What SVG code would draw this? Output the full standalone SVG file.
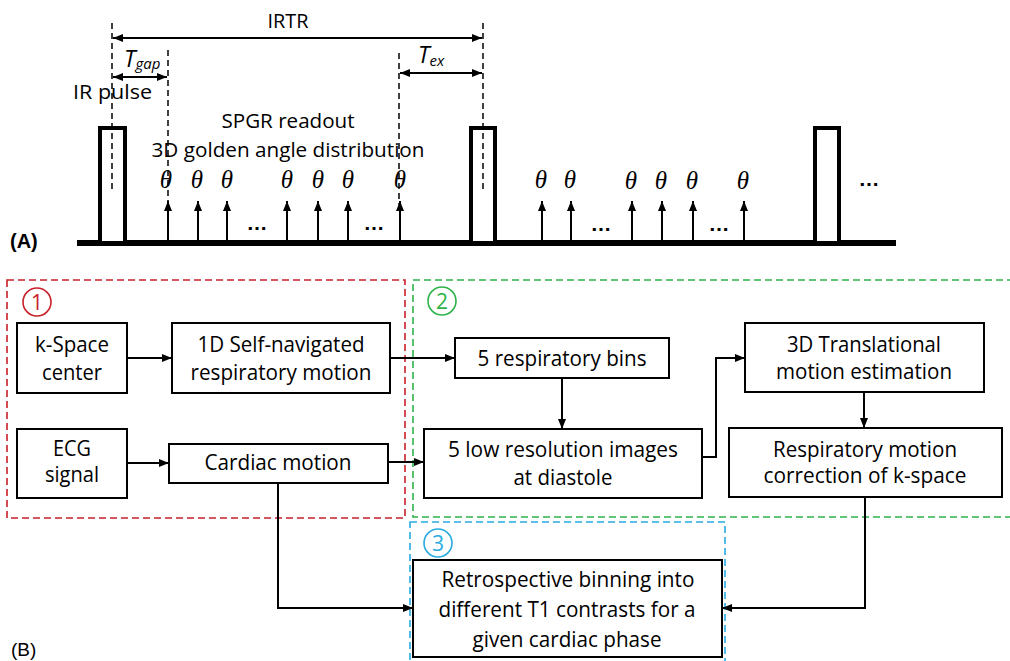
<svg xmlns="http://www.w3.org/2000/svg" width="1010" height="661" viewBox="0 0 1010 661">
<style>
.t{font-family:"Open Sans","Liberation Sans",sans-serif;font-size:21px;fill:#000;text-anchor:middle}
.ta{font-family:"Open Sans","Liberation Sans",sans-serif;font-size:20px;fill:#000}
.th{font-family:"Liberation Serif","DejaVu Serif",serif;font-style:italic;font-size:25px;fill:#000;text-anchor:middle}
.dots{font-family:"Liberation Sans",sans-serif;font-size:21px;font-weight:bold;fill:#000;text-anchor:middle}
.box{fill:#fff;stroke:#000;stroke-width:2}
.pulse{fill:#fff;stroke:#000;stroke-width:4}
.dash{stroke:#000;stroke-width:1.5;stroke-dasharray:6 4;fill:none}
.ln{stroke:#000;stroke-width:2;fill:none}
.grp{fill:none;stroke-width:1.6;stroke-dasharray:7 4}
.num{font-family:"Open Sans","Liberation Sans",sans-serif;font-size:21px;text-anchor:middle}
</style>
<defs>
<marker id="ah" viewBox="0 0 10 8" refX="10" refY="4" markerWidth="10" markerHeight="8" markerUnits="userSpaceOnUse" orient="auto-start-reverse"><path d="M0,0 L10,4 L0,8 z" fill="#000"/></marker>
</defs>
<rect width="1010" height="661" fill="#fff"/>

<!-- Part A: pulse sequence -->
<g id="sequence">
<line x1="77" y1="243" x2="896" y2="243" stroke="#000" stroke-width="6"/>
<rect class="pulse" x="100" y="128" width="25" height="115"/>
<rect class="pulse" x="471" y="128" width="24" height="115"/>
<rect class="pulse" x="815" y="128" width="24" height="115"/>
<line class="dash" x1="112" y1="23" x2="112" y2="190"/>
<line class="dash" x1="483" y1="23" x2="483" y2="190"/>
<line class="dash" x1="168" y1="50" x2="168" y2="205"/>
<line class="dash" x1="399" y1="53" x2="399" y2="205"/>
<line class="ln" x1="113" y1="38" x2="482" y2="38" marker-start="url(#ah)" marker-end="url(#ah)"/>
<line class="ln" x1="113" y1="77" x2="167" y2="77" marker-start="url(#ah)" marker-end="url(#ah)"/>
<line class="ln" x1="400" y1="73" x2="482" y2="73" marker-start="url(#ah)" marker-end="url(#ah)"/>
<text class="ta" x="288" y="28" text-anchor="middle" textLength="41" lengthAdjust="spacingAndGlyphs">IRTR</text>
<text x="124" y="67" font-family="Open Sans, Liberation Sans, sans-serif" font-style="italic" font-size="23">T<tspan font-size="15" dy="2">gap</tspan></text>
<text x="418" y="63" font-family="Open Sans, Liberation Sans, sans-serif" font-style="italic" font-size="23">T<tspan font-size="15" dy="3">ex</tspan></text>
<text class="ta" x="73" y="99" textLength="79" lengthAdjust="spacingAndGlyphs">IR pulse</text>
<text class="ta" x="288" y="128" text-anchor="middle" textLength="133" lengthAdjust="spacingAndGlyphs">SPGR readout</text>
<text class="ta" x="288" y="157" text-anchor="middle" textLength="273" lengthAdjust="spacingAndGlyphs">3D golden angle distribution</text>
<g class="ln" stroke-width="1.8">
<line x1="168" y1="241" x2="168" y2="201" marker-end="url(#ah)"/>
<line x1="198" y1="241" x2="198" y2="201" marker-end="url(#ah)"/>
<line x1="227" y1="241" x2="227" y2="201" marker-end="url(#ah)"/>
<line x1="287" y1="241" x2="287" y2="201" marker-end="url(#ah)"/>
<line x1="318" y1="241" x2="318" y2="201" marker-end="url(#ah)"/>
<line x1="348" y1="241" x2="348" y2="201" marker-end="url(#ah)"/>
<line x1="400" y1="241" x2="400" y2="201" marker-end="url(#ah)"/>
<line x1="542" y1="241" x2="542" y2="201" marker-end="url(#ah)"/>
<line x1="571" y1="241" x2="571" y2="201" marker-end="url(#ah)"/>
<line x1="632" y1="241" x2="632" y2="201" marker-end="url(#ah)"/>
<line x1="662" y1="241" x2="662" y2="201" marker-end="url(#ah)"/>
<line x1="693" y1="241" x2="693" y2="201" marker-end="url(#ah)"/>
<line x1="744" y1="241" x2="744" y2="201" marker-end="url(#ah)"/>
</g>
<text class="th" x="166" y="188">θ</text>
<text class="th" x="197" y="188">θ</text>
<text class="th" x="227" y="188">θ</text>
<text class="th" x="287" y="188">θ</text>
<text class="th" x="318" y="188">θ</text>
<text class="th" x="348" y="188">θ</text>
<text class="th" x="400" y="188">θ</text>
<text class="th" x="541" y="188">θ</text>
<text class="th" x="570" y="188">θ</text>
<text class="th" x="631" y="189">θ</text>
<text class="th" x="661" y="189">θ</text>
<text class="th" x="692" y="189">θ</text>
<text class="th" x="743" y="189">θ</text>
<text class="dots" x="257" y="230">…</text>
<text class="dots" x="374" y="230">…</text>
<text class="dots" x="601" y="231">…</text>
<text class="dots" x="719" y="231">…</text>
<text class="dots" x="869" y="186">…</text>
<text x="10" y="248" font-family="Liberation Sans, Arial, sans-serif" font-weight="bold" font-size="20">(A)</text>
</g>

<!-- Part B: group frames -->
<g id="group1">
<rect class="grp" x="7" y="280" width="398" height="238" stroke="#c8202a"/>
<circle cx="37" cy="302" r="14" fill="none" stroke="#c8202a" stroke-width="1.6"/>
<text class="num" x="37" y="310" fill="#c8202a">1</text>
</g>
<g id="group2">
<rect class="grp" x="413" y="280" width="610" height="237" stroke="#2db34a"/>
<circle cx="442" cy="301" r="14" fill="none" stroke="#2db34a" stroke-width="1.6"/>
<text class="num" x="442" y="309" fill="#2db34a">2</text>
</g>
<g id="group3">
<rect class="grp" x="410" y="522" width="315" height="150" stroke="#29abe2"/>
<circle cx="438" cy="543" r="14" fill="none" stroke="#29abe2" stroke-width="1.6"/>
<text class="num" x="438" y="551" fill="#29abe2">3</text>
</g>

<!-- connectors -->
<g id="connectors" class="ln">
<line x1="127" y1="358" x2="172" y2="358" marker-end="url(#ah)"/>
<line x1="127" y1="463" x2="169" y2="463" marker-end="url(#ah)"/>
<line x1="390" y1="358" x2="455" y2="358" marker-end="url(#ah)"/>
<line x1="388" y1="462" x2="424" y2="462" marker-end="url(#ah)"/>
<line x1="562" y1="378" x2="562" y2="429" marker-end="url(#ah)"/>
<polyline points="702,457 716,457 716,358 745,358" marker-end="url(#ah)"/>
<line x1="864" y1="392" x2="864" y2="428" marker-end="url(#ah)"/>
<polyline points="278,483 278,608 413,608" marker-end="url(#ah)"/>
<polyline points="865,497 865,608 722,608" marker-end="url(#ah)"/>
</g>

<!-- nodes -->
<g id="kspace">
<rect class="box" x="17" y="323" width="110" height="70"/>
<text class="t" x="72" y="352" textLength="74" lengthAdjust="spacingAndGlyphs">k-Space</text>
<text class="t" x="72" y="380" textLength="60" lengthAdjust="spacingAndGlyphs">center</text>
</g>
<g id="selfnav">
<rect class="box" x="172" y="323" width="218" height="70"/>
<text class="t" x="281" y="352" textLength="167" lengthAdjust="spacingAndGlyphs">1D Self-navigated</text>
<text class="t" x="281" y="380" textLength="181" lengthAdjust="spacingAndGlyphs">respiratory motion</text>
</g>
<g id="ecg">
<rect class="box" x="17" y="429" width="110" height="69"/>
<text class="t" x="72" y="456" textLength="38" lengthAdjust="spacingAndGlyphs">ECG</text>
<text class="t" x="72" y="482" textLength="54" lengthAdjust="spacingAndGlyphs">signal</text>
</g>
<g id="cardiac">
<rect class="box" x="169" y="444" width="219" height="39"/>
<text class="t" x="278" y="470" textLength="147" lengthAdjust="spacingAndGlyphs">Cardiac motion</text>
</g>
<g id="respbins">
<rect class="box" x="455" y="338" width="214" height="40"/>
<text class="t" x="562" y="366" textLength="169" lengthAdjust="spacingAndGlyphs">5 respiratory bins</text>
</g>
<g id="lowres">
<rect class="box" x="424" y="429" width="278" height="69"/>
<text class="t" x="563" y="457" textLength="230" lengthAdjust="spacingAndGlyphs">5 low resolution images</text>
<text class="t" x="563" y="485" textLength="99" lengthAdjust="spacingAndGlyphs">at diastole</text>
</g>
<g id="translational">
<rect class="box" x="745" y="323" width="239" height="69"/>
<text class="t" x="864" y="352" textLength="154" lengthAdjust="spacingAndGlyphs">3D Translational</text>
<text class="t" x="864" y="379" textLength="176" lengthAdjust="spacingAndGlyphs">motion estimation</text>
</g>
<g id="correction">
<rect class="box" x="729" y="428" width="273" height="69"/>
<text class="t" x="865" y="457" textLength="184" lengthAdjust="spacingAndGlyphs">Respiratory motion</text>
<text class="t" x="865" y="483" textLength="203" lengthAdjust="spacingAndGlyphs">correction of k-space</text>
</g>
<g id="retro">
<rect class="box" x="413" y="560" width="309" height="97"/>
<text class="t" x="568" y="587" textLength="253" lengthAdjust="spacingAndGlyphs">Retrospective binning into</text>
<text class="t" x="567" y="617" textLength="257" lengthAdjust="spacingAndGlyphs">different T1 contrasts for a</text>
<text class="t" x="567" y="647" textLength="189" lengthAdjust="spacingAndGlyphs">given cardiac phase</text>
</g>
<text x="11" y="656" font-family="Liberation Sans, Arial, sans-serif" font-size="19">(B)</text>
</svg>
